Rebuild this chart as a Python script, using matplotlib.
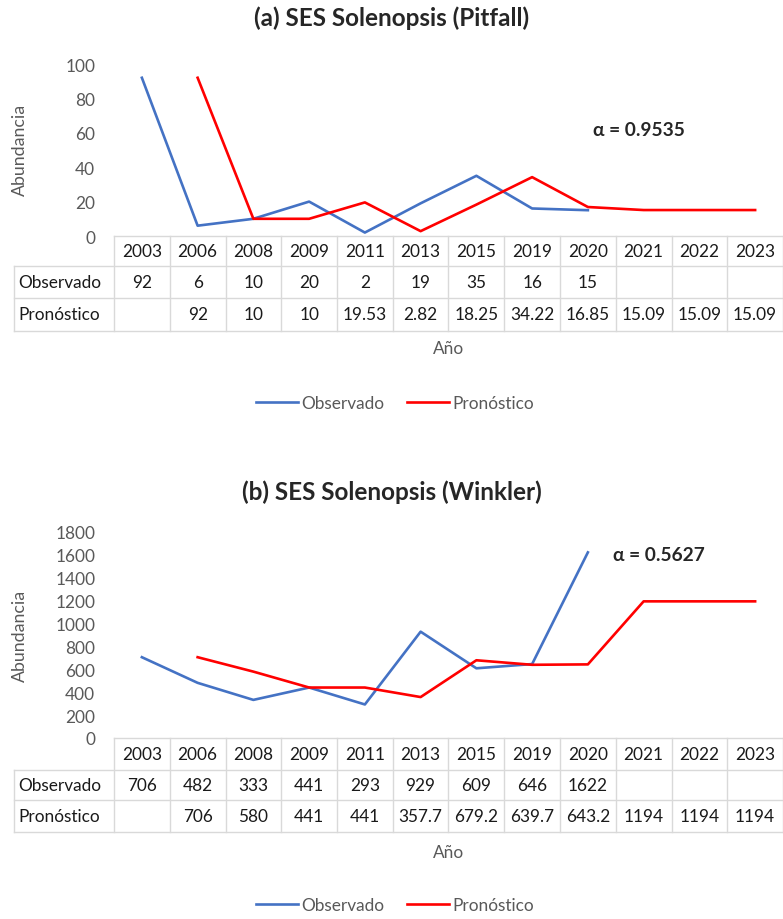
import matplotlib
matplotlib.use("Agg")
import matplotlib.pyplot as plt
import numpy as np
from matplotlib.lines import Line2D

# ---- data -------------------------------------------------------------
years = ["2003", "2006", "2008", "2009", "2011", "2013",
         "2015", "2019", "2020", "2021", "2022", "2023"]

pitfall_obs = [92, 6, 10, 20, 2, 19, 35, 16, 15, None, None, None]
pitfall_fc = [None, 92, 10, 10, 19.53, 2.82, 18.25, 34.22, 16.85, 15.09, 15.09, 15.09]
pitfall_alpha = 0.9535

winkler_obs = [706, 482, 333, 441, 293, 929, 609, 646, 1622, None, None, None]
winkler_fc = [None, 706, 580, 441, 441, 357.7, 679.2, 639.7, 643.2, 1194, 1194, 1194]
winkler_alpha = 0.5627

series_names = ["Observado", "Pronóstico"]
row_names = ["Observado", "Pronóstico"]

# ---- style ------------------------------------------------------------
plt.rcParams["font.family"] = ["Lato", "DejaVu Sans"]
BLUE = "#4472C4"
RED = "#FF0000"
GRID = "#D9D9D9"
TXT = "#1a1a1a"
GREY = "#595959"
FS = 12.4

W, H = 783, 920
fig = plt.figure(figsize=(W / 100, H / 100), dpi=100)


def fx(px):
    return px / W


def fy(py):
    return 1 - py / H


def fmt(v):
    return "" if v is None else f"{v:g}"


def panel(title, obs, fc, alpha, ymax, ystep, g):
    """One chart with its data table underneath; g holds pixel positions."""
    ax = fig.add_axes([fx(g["x0"]), fy(g["y0"]), fx(g["x1"] - g["x0"]),
                       (g["y0"] - g["ytop"]) / H])
    x = np.arange(len(years))
    o = np.array([np.nan if v is None else v for v in obs], float)
    f = np.array([np.nan if v is None else v for v in fc], float)
    l1, = ax.plot(x, o, color=BLUE, lw=1.9, label=series_names[0])
    l2, = ax.plot(x, f, color=RED, lw=1.9, label=series_names[1])
    ax.set_xlim(-0.5, len(years) - 0.5)
    ax.set_ylim(0, ymax)
    ax.set_yticks(np.arange(0, ymax + 1, ystep))
    ax.set_xticks([])
    ax.tick_params(axis="y", length=0, pad=13.5, labelsize=FS, labelcolor=GREY)
    for s in ax.spines.values():
        s.set_visible(False)
    ax.patch.set_alpha(0)

    # title and alpha annotation
    fig.text(fx(g["x_title"]), fy(g["y_title"]), title, ha="center", va="center",
             fontsize=17.5, fontweight="bold", color="#262626")
    fig.text(fx(g["x_alpha"]), fy(g["y_alpha"]), f"α = {alpha}", ha="left",
             va="center", fontsize=13.8, fontweight="bold", color="#262626")
    fig.text(fx(20), fy(g["y_ylab"]), "Abundancia", rotation=90, ha="center",
             va="center", fontsize=12.8, color=GREY)

    # data table: column edges from the axes' own x scale
    to_px = lambda xv: ax.transData.transform((xv, 0))[0]
    edges = [to_px(i - 0.5) for i in range(len(years) + 1)]
    centers = [to_px(i) for i in range(len(years))]
    rt, r1, r2, rb = g["rows"]
    lab_left = 14
    lk = dict(color=GRID, lw=1.0)
    fig.add_artist(Line2D([fx(edges[0]), fx(edges[-1])], [fy(rt), fy(rt)], **lk))
    for yy in (r1, r2, rb):
        fig.add_artist(Line2D([fx(lab_left), fx(edges[-1])], [fy(yy), fy(yy)], **lk))
    for e in edges:
        fig.add_artist(Line2D([fx(e), fx(e)], [fy(rt), fy(rb)], **lk))
    fig.add_artist(Line2D([fx(lab_left), fx(lab_left)], [fy(r1), fy(rb)], **lk))

    for c, yr in zip(centers, years):
        fig.text(fx(c), fy((rt + r1) / 2), yr, ha="center", va="center",
                 fontsize=FS, color=TXT)
    for (ya, yb), name, vals in zip(((r1, r2), (r2, rb)), row_names, (obs, fc)):
        ym = (ya + yb) / 2
        fig.text(fx(lab_left + 4), fy(ym), name, ha="left", va="center",
                 fontsize=FS, color=TXT)
        for c, v in zip(centers, vals):
            fig.text(fx(c), fy(ym), fmt(v), ha="center", va="center",
                     fontsize=FS, color=TXT)

    fig.text(fx((g["x0"] + g["x1"]) / 2), fy(g["y_xlab"]), "Año", ha="center",
             va="center", fontsize=FS, color=GREY)

    fig.legend(handles=[l1, l2], loc="center",
               bbox_to_anchor=(fx(395), fy(g["y_leg"])), ncol=2, frameon=False,
               fontsize=FS, labelcolor=GREY, handlelength=2.45,
               handletextpad=0.2, columnspacing=1.3, borderaxespad=0)
    return ax


panel("(a) SES Solenopsis (Pitfall)", pitfall_obs, pitfall_fc, pitfall_alpha,
      100, 20,
      dict(x0=114, x1=783, y0=237, ytop=65, x_title=392, y_title=18,
           x_alpha=593, y_alpha=130, y_ylab=150, rows=(237, 267, 299, 332),
           y_xlab=349, y_leg=404))

panel("(b) SES Solenopsis (Winkler)", winkler_obs, winkler_fc, winkler_alpha,
      1800, 200,
      dict(x0=114, x1=783, y0=739, ytop=533, x_title=392, y_title=492,
           x_alpha=613, y_alpha=556, y_ylab=636, rows=(739, 771, 801, 833),
           y_xlab=853, y_leg=906))

fig.savefig("out.png", dpi=100, facecolor="white")
